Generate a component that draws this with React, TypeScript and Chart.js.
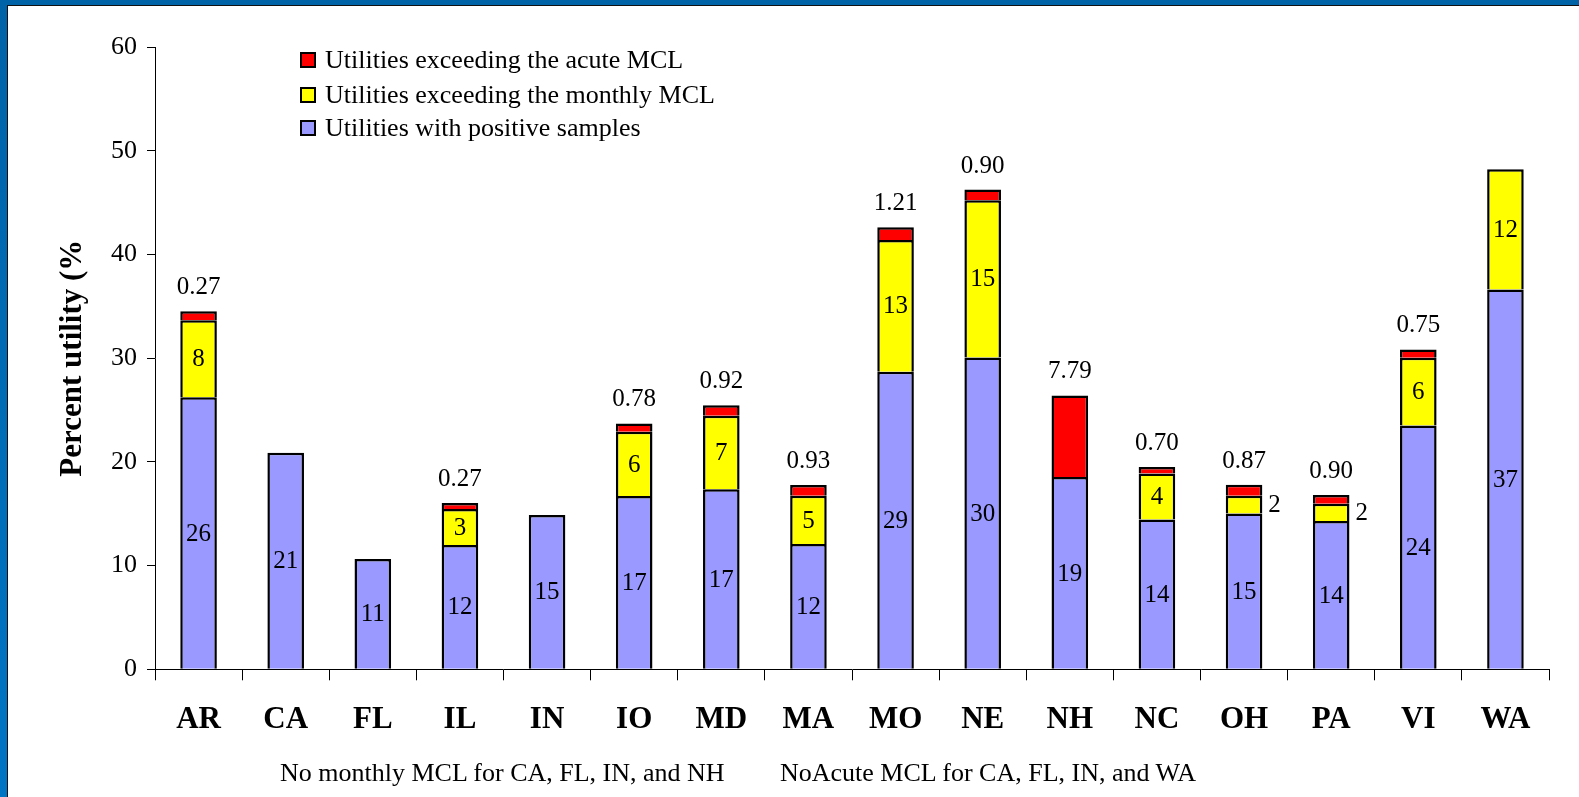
import React, { useEffect, useRef } from "react";
import { Chart, registerables } from "chart.js";

Chart.register(...registerables);

const states = ["AR", "CA", "FL", "IL", "IN", "IO", "MD", "MA", "MO", "NE", "NH", "NC", "OH", "PA", "VI", "WA"];

const positiveSamples = [26.24, 20.88, 10.63, 11.98, 14.87, 16.7, 17.35, 12.07, 28.68, 30.06, 18.53, 14.45, 15.03, 14.29, 23.51, 36.62];
const positiveLabels = ["26", "21", "11", "12", "15", "17", "17", "12", "29", "30", "19", "14", "15", "14", "24", "37"];

const exceedMonthly = [7.42, null, null, 3.47, null, 6.2, 7.09, 4.66, 12.71, 15.17, null, 4.43, 1.7, 1.67, 6.52, 11.59];
const monthlyLabels = ["8", "", "", "3", "", "6", "7", "5", "13", "15", "", "4", "2", "2", "6", "12"];

const exceedAcute = [0.87, null, null, 0.58, null, 0.8, 1.03, 1.03, 1.24, 1.02, 7.87, 0.62, 1.06, 0.84, 0.81, null];
const acuteLabels = ["0.27", "", "", "0.27", "", "0.78", "0.92", "0.93", "1.21", "0.90", "7.79", "0.70", "0.87", "0.90", "0.75", ""];

const seriesNames = [
  "Utilities with positive samples",
  "Utilities exceeding the monthly MCL",
  "Utilities exceeding the acute MCL",
];
const seriesColors = ["#9999FF", "#FFFF00", "#FF0000"];

const yTitle = "Percent utility (%";
const footnotes = [
  "No monthly MCL for CA, FL, IN, and NH",
  "NoAcute MCL for CA, FL, IN, and WA",
];

const SERIF = "'Liberation Serif', 'Times New Roman', serif";

const segmentLabelPlugin = {
  id: "segmentLabels",
  afterDatasetsDraw(chart: any) {
    const ctx = chart.ctx;
    const texts = [positiveLabels, monthlyLabels, acuteLabels];
    ctx.save();
    ctx.font = `25px ${SERIF}`;
    ctx.fillStyle = "#000";
    chart.data.datasets.forEach((ds: any, di: number) => {
      const meta = chart.getDatasetMeta(di);
      meta.data.forEach((el: any, i: number) => {
        const txt = texts[di][i];
        const v = ds.data[i];
        if (!txt || v == null) return;
        const { x, y, base, width } = el.getProps(["x", "y", "base", "width"], true);
        if (di === 2) {
          ctx.textAlign = "center";
          ctx.textBaseline = "alphabetic";
          ctx.fillText(txt, x, y - 17);
        } else {
          const h = base - y;
          const cy = (y + base) / 2 + 1;
          if (h < 24) {
            ctx.textAlign = "left";
            ctx.textBaseline = "middle";
            ctx.fillText(txt, x + width / 2 + 6, cy);
          } else {
            ctx.textAlign = "center";
            ctx.textBaseline = "middle";
            ctx.fillText(txt, x, cy);
          }
        }
      });
    });
    ctx.restore();
  },
};

export default function App() {
  const canvasRef = useRef<HTMLCanvasElement | null>(null);

  useEffect(() => {
    if (!canvasRef.current) return;
    Chart.defaults.font.family = SERIF;
    Chart.defaults.color = "#000";
    const values = [positiveSamples, exceedMonthly, exceedAcute];
    const chart = new Chart(canvasRef.current, {
      type: "bar",
      data: {
        labels: states,
        datasets: values.map((d, i) => ({
          label: seriesNames[i],
          data: d,
          backgroundColor: seriesColors[i],
          borderColor: "#000",
          borderWidth: 2.5,
          borderSkipped: "start",
          barPercentage: 0.42,
          categoryPercentage: 1,
        })),
      },
      options: {
        responsive: false,
        animation: false,
        events: [],
        layout: { padding: { top: 47, left: 54, right: 30, bottom: 0 } },
        plugins: {
          legend: { display: false },
          tooltip: { enabled: false },
        },
        scales: {
          x: {
            stacked: true,
            offset: true,
            grid: {
              display: true,
              drawOnChartArea: false,
              drawTicks: true,
              tickLength: 11,
              color: "#000",
              offset: true,
            },
            border: { display: true, color: "#000", width: 1 },
            ticks: {
              font: { family: SERIF, size: 31, weight: "bold" },
              color: "#000",
              padding: 21,
              maxRotation: 0,
              autoSkip: false,
            },
            afterFit: (scale: any) => {
              scale.height = 127.7;
            },
          },
          y: {
            stacked: true,
            min: 0,
            max: 60,
            grid: {
              display: true,
              drawOnChartArea: false,
              drawTicks: true,
              tickLength: 8,
              color: "#000",
            },
            border: { display: true, color: "#000", width: 1 },
            ticks: {
              stepSize: 10,
              font: { family: SERIF, size: 26 },
              color: "#000",
              padding: 10,
            },
            title: {
              display: true,
              text: yTitle,
              font: { family: SERIF, size: 31, weight: "bold" },
              color: "#000",
              padding: { top: 0, bottom: 0 },
            },
            afterFit: (scale: any) => {
              scale.width = 101;
            },
          },
        },
      },
      plugins: [segmentLabelPlugin],
    } as any);
    return () => chart.destroy();
  }, []);

  const legendRows = [2, 1, 0];
  const legendCenters = [60, 94.5, 128];

  return (
    <div
      style={{
        position: "fixed",
        left: 0,
        top: 0,
        width: 1579,
        height: 797,
        background: "#fff",
        overflow: "hidden",
        fontFamily: SERIF,
      }}
    >
      <div style={{ position: "absolute", left: 0, top: 0, width: 1579, height: 5, background: "#0063A8" }} />
      <div style={{ position: "absolute", left: 0, top: 5, width: 1579, height: 1, background: "#111" }} />
      <div
        style={{
          position: "absolute",
          left: 0,
          top: 0,
          width: 7,
          height: 797,
          background: "linear-gradient(#0063A8, #0075C4)",
        }}
      />
      <div style={{ position: "absolute", left: 7, top: 5, width: 1, height: 792, background: "#111" }} />
      <canvas
        ref={canvasRef}
        width={1579}
        height={797}
        style={{ position: "absolute", left: 0, top: 0, width: 1579, height: 797 }}
      />
      {legendRows.map((si, r) => (
        <div
          key={si}
          style={{
            position: "absolute",
            left: 300,
            top: legendCenters[r] - 15,
            height: 30,
            display: "flex",
            alignItems: "center",
            whiteSpace: "nowrap",
          }}
        >
          <div
            style={{
              width: 16,
              height: 16,
              boxSizing: "border-box",
              border: "2px solid #000",
              background: seriesColors[si],
              marginRight: 9,
            }}
          />
          <span style={{ fontSize: 26, lineHeight: "30px", color: "#000" }}>{seriesNames[si]}</span>
        </div>
      ))}
      {footnotes.map((t, i) => (
        <div
          key={i}
          style={{
            position: "absolute",
            left: i === 0 ? 280 : 780,
            top: 758,
            fontSize: 26,
            lineHeight: "30px",
            whiteSpace: "nowrap",
            color: "#000",
          }}
        >
          {t}
        </div>
      ))}
    </div>
  );
}
